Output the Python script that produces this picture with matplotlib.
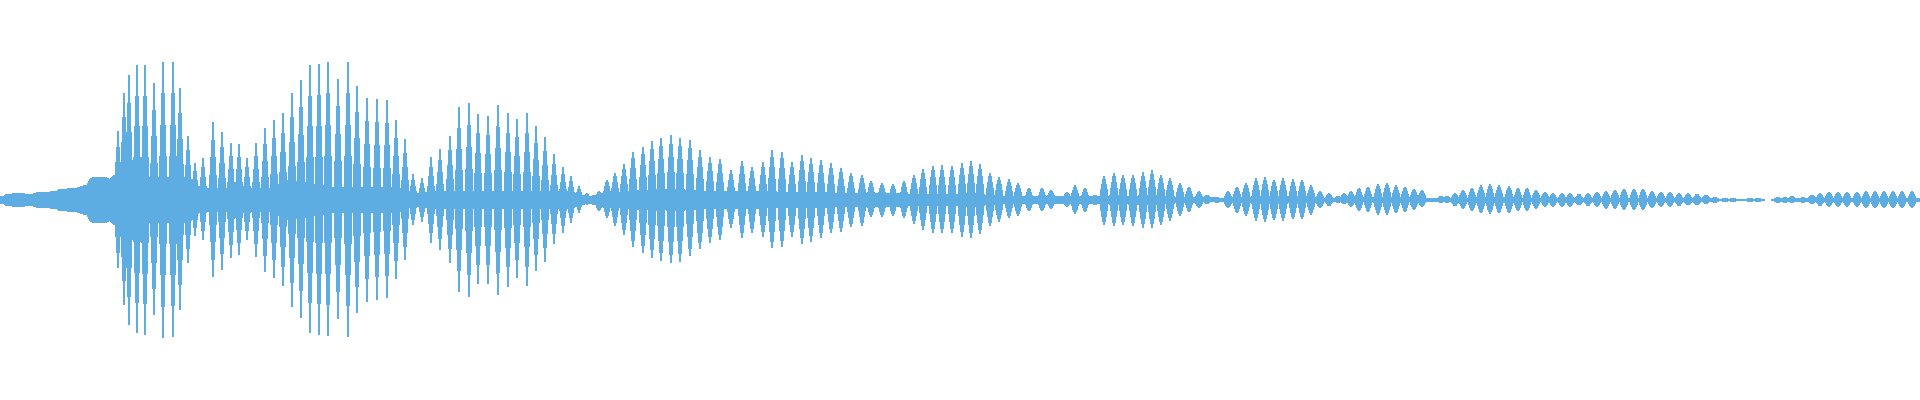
import numpy as np
import matplotlib
matplotlib.use('Agg')
import matplotlib.pyplot as plt

# pulse times (ms) and peak amplitudes above / below the centre line
pulse_t = [118, 124, 129, 137, 145, 154, 163, 173, 180, 188, 195, 203, 213, 222, 231, 239,
           247, 256, 265, 274, 283, 292, 301, 310, 319, 328, 338, 348, 357, 367, 377, 387,
           396, 405, 413, 422, 431, 440, 450, 459, 469, 478, 488, 498, 508, 517, 527, 536,
           545, 554, 563, 571, 579, 587, 592, 599, 607, 615, 624, 633, 643, 652, 661, 671,
           680, 690, 700, 710, 720, 731, 742, 752, 763, 772, 782, 792, 802, 811, 821, 831,
           841, 851, 862, 871, 882, 893, 904, 914, 923, 933, 942, 952, 962, 971, 980, 990,
           999, 1009, 1018, 1029, 1042, 1051, 1061, 1067, 1075, 1085, 1095, 1104, 1114, 1123,
           1133, 1143, 1152, 1161, 1170, 1180, 1189, 1199, 1207, 1213, 1217, 1221, 1228, 1237,
           1246, 1256, 1265, 1274, 1283, 1293, 1302, 1311, 1320, 1329, 1338, 1344, 1351, 1359,
           1368, 1378, 1387, 1396, 1405, 1414, 1422, 1441, 1447, 1455, 1463, 1472, 1481, 1490,
           1499, 1509, 1518, 1527, 1536, 1545, 1553, 1562, 1570, 1579, 1588, 1597, 1606, 1615,
           1624, 1634, 1643, 1652, 1661, 1670, 1679, 1688, 1697, 1706, 1715, 1725, 1733, 1750,
           1758, 1778, 1785, 1792, 1803, 1812, 1820, 1829, 1838, 1847, 1857, 1866, 1875, 1884,
           1893, 1902, 1912]
pulse_up = [69, 107, 125, 135, 135, 117, 138, 138, 112, 64, 37, 42, 78, 68, 57, 56,
            42, 57, 72, 80, 87, 107, 120, 135, 136, 138, 121, 138, 114, 102, 101, 100,
            80, 61, 26, 22, 43, 51, 64, 93, 97, 86, 84, 95, 87, 81, 87, 74,
            63, 46, 33, 24, 14, 7, 3, 9, 20, 27, 36, 48, 53, 59, 62, 65,
            62, 60, 50, 43, 41, 30, 39, 33, 38, 50, 48, 38, 45, 42, 40, 37,
            32, 27, 25, 19, 17, 16, 19, 25, 31, 34, 35, 34, 37, 39, 36, 27,
            23, 21, 17, 12, 12, 10, 4, 8, 15, 12, 5, 24, 27, 25,
            25, 28, 30, 25, 22, 17, 13, 9, 5, 3, 3, 2, 9, 13,
            17, 22, 23, 20, 22, 21, 20, 15, 9, 7, 4, 7, 9, 12,
            13, 16, 17, 15, 13, 11, 10, 4, 4, 7, 10, 12, 15, 16,
            15, 14, 12, 12, 10, 8, 7, 7, 7, 6, 7, 8, 9, 10,
            11, 11, 11, 9, 8, 8, 7, 7, 6, 5, 3, 2, 2, 2,
            2, 3, 3, 4, 3, 5, 7, 8, 8, 8, 8, 9, 9, 9,
            9, 9, 9]
pulse_dn = [68, 105, 125, 133, 135, 115, 138, 137, 110, 63, 36, 40, 77, 70, 58, 55,
            40, 57, 72, 78, 86, 107, 118, 133, 135, 136, 119, 137, 113, 102, 100, 98,
            79, 60, 25, 22, 43, 50, 63, 92, 97, 84, 84, 95, 87, 78, 86, 71,
            62, 44, 33, 23, 13, 5, 2, 11, 18, 26, 35, 47, 53, 58, 61, 63,
            62, 56, 49, 43, 40, 28, 38, 33, 37, 48, 47, 37, 44, 42, 38, 33,
            32, 27, 26, 17, 17, 16, 18, 24, 30, 33, 33, 33, 37, 38, 34, 26,
            22, 18, 16, 11, 11, 9, 3, 7, 14, 12, 5, 25, 26, 25,
            26, 28, 28, 25, 21, 16, 12, 8, 4, 2, 3, 1, 8, 13,
            16, 21, 22, 20, 21, 19, 19, 15, 8, 6, 3, 4, 7, 11,
            12, 15, 15, 13, 12, 10, 7, 3, 3, 6, 9, 11, 13, 14,
            13, 13, 11, 11, 9, 7, 7, 7, 7, 5, 6, 7, 9, 9,
            10, 10, 10, 8, 7, 7, 6, 5, 5, 4, 3, 2, 2, 2,
            2, 3, 3, 3, 3, 4, 6, 7, 7, 7, 7, 8, 8, 8,
            8, 8, 8]

# thickness of the dense band around the centre line
core_t = [0, 3, 7, 12, 20, 25, 28, 33, 40, 42, 50, 57, 60, 65, 70, 75, 80, 83, 87, 90,
          95, 100, 105, 110, 114, 120, 190, 200, 215, 270, 290, 330, 400, 412, 425, 435, 570,
          588, 600, 640, 700, 900, 1000, 1200, 1440, 1715, 1740, 1760, 1768, 1775, 1800, 1920]
core_a = [4, 3, 6, 6, 7, 6, 5, 6, 8, 7, 8, 9, 11, 10, 12, 11, 13, 14, 15, 21,
          23, 22, 23, 20, 25, 23, 22, 12, 11, 12, 20, 13, 12, 6, 7, 9, 8,
          3, 6, 10, 9, 6, 4, 2, 2, 1, 1, 0.5, 0, 0.5, 1.5, 2]

colour = '#5DADE2'

x = np.arange(0, 1920.01, 0.25)
t = np.array(pulse_t, dtype=float)[:, None]
up = np.array(pulse_up, dtype=float)[:, None]
dn = np.array(pulse_dn, dtype=float)[:, None]

# narrow pointed spikes in the first part, lens-shaped blobs afterwards
first = t < 590
half_w = np.where(first, 4.4, 4.6)
u = np.clip(np.abs(x[None, :] - t) / half_w, 0, 1)
shape = np.where(first, 1 - u, 1 - u ** 1.3)

core = np.interp(x, core_t, core_a)
top = np.maximum(core, (up * shape).max(axis=0))
bottom = np.maximum(core, (dn * shape).max(axis=0))
mask = (top > 0.2) | (bottom > 0.2)

fig = plt.figure(figsize=(19.2, 4), dpi=100)
ax = fig.add_axes([0, 0, 1, 1])
ax.fill_between(x, -bottom, top, where=mask, color=colour, linewidth=0, antialiased=False)
ax.set_xlim(0, 1920)
ax.set_ylim(-200, 200)
ax.axis('off')

fig.savefig('out.png', dpi=100, facecolor='white')
